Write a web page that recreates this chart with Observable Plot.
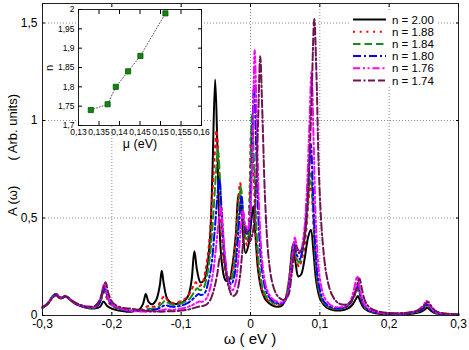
<!DOCTYPE html>
<html><head><meta charset="utf-8">
<script src="https://cdn.jsdelivr.net/npm/d3@7"></script>
<script src="https://cdn.jsdelivr.net/npm/@observablehq/plot@0.6"></script>
<style>
body{margin:0;background:#fff;}
#wrap{position:relative;width:469px;height:350px;font-family:"Liberation Sans",Arial,Helvetica,sans-serif;}
#wrap svg{position:absolute;}
</style></head><body><div id="wrap"></div>
<script>
// ---- main chart data ----
const xTicks = [-0.3, -0.2, -0.1, 0, 0.1, 0.2, 0.3];
const yTicks = [0, 0.5, 1, 1.5];
const seriesNames = ["n = 2.00", "n = 1.88", "n = 1.84", "n = 1.80", "n = 1.76", "n = 1.74"];
const seriesColors = ["#000000", "#ff0000", "#1a8c1a", "#0000ff", "#ff00ff", "#6e1452"];
const seriesDash = [null, "2,4.7", "7.5,4", "8,3,2,3", "7,3,2,2.5,2,3", "8,2.5,2,2.5,7,3,7,3"];

const n200 = [[-0.300,0.040],[-0.292,0.060],[-0.285,0.100],[-0.281,0.110],[-0.276,0.090],[-0.272,0.088],[-0.267,0.098],[-0.262,0.085],[-0.255,0.065],[-0.245,0.048],[-0.235,0.038],[-0.225,0.036],[-0.217,0.045],[-0.212,0.072],[-0.207,0.050],[-0.200,0.035],[-0.190,0.025],[-0.180,0.020],[-0.170,0.020],[-0.160,0.032],[-0.155,0.060],[-0.151,0.110],[-0.147,0.070],[-0.142,0.058],[-0.136,0.080],[-0.131,0.150],[-0.128,0.230],[-0.125,0.160],[-0.120,0.085],[-0.113,0.062],[-0.105,0.060],[-0.097,0.070],[-0.090,0.100],[-0.085,0.180],[-0.081,0.330],[-0.077,0.230],[-0.072,0.170],[-0.067,0.180],[-0.062,0.260],[-0.058,0.420],[-0.055,0.720],[-0.051,1.210],[-0.048,0.900],[-0.045,0.480],[-0.041,0.260],[-0.036,0.180],[-0.031,0.180],[-0.026,0.260],[-0.021,0.420],[-0.017,0.620],[-0.014,0.600],[-0.011,0.420],[-0.007,0.320],[-0.003,0.360],[0.001,0.480],[0.004,0.560],[0.007,0.420],[0.011,0.230],[0.016,0.130],[0.022,0.080],[0.030,0.055],[0.038,0.045],[0.045,0.050],[0.051,0.090],[0.056,0.190],[0.061,0.360],[0.065,0.270],[0.069,0.200],[0.073,0.210],[0.078,0.290],[0.083,0.400],[0.087,0.440],[0.091,0.320],[0.095,0.170],[0.101,0.080],[0.110,0.040],[0.120,0.027],[0.130,0.026],[0.140,0.035],[0.147,0.055],[0.152,0.085],[0.155,0.100],[0.158,0.075],[0.163,0.040],[0.170,0.022],[0.180,0.012],[0.200,0.006],[0.220,0.006],[0.235,0.010],[0.245,0.018],[0.251,0.030],[0.255,0.040],[0.259,0.028],[0.266,0.012],[0.280,0.005],[0.300,0.003]];

const n188 = [[-0.300,0.045],[-0.292,0.065],[-0.285,0.100],[-0.280,0.112],[-0.276,0.095],[-0.272,0.092],[-0.266,0.100],[-0.261,0.085],[-0.254,0.065],[-0.245,0.050],[-0.235,0.040],[-0.225,0.040],[-0.218,0.060],[-0.214,0.095],[-0.211,0.120],[-0.207,0.085],[-0.202,0.055],[-0.195,0.040],[-0.185,0.030],[-0.175,0.025],[-0.165,0.025],[-0.157,0.030],[-0.150,0.045],[-0.146,0.050],[-0.140,0.045],[-0.133,0.055],[-0.127,0.090],[-0.124,0.100],[-0.120,0.080],[-0.113,0.065],[-0.105,0.068],[-0.097,0.080],[-0.090,0.100],[-0.084,0.140],[-0.079,0.170],[-0.075,0.150],[-0.070,0.160],[-0.065,0.230],[-0.060,0.360],[-0.056,0.560],[-0.052,0.800],[-0.049,0.950],[-0.046,0.780],[-0.042,0.450],[-0.037,0.240],[-0.032,0.180],[-0.028,0.200],[-0.023,0.330],[-0.019,0.520],[-0.015,0.680],[-0.012,0.560],[-0.008,0.400],[-0.005,0.360],[-0.002,0.550],[0.001,0.950],[0.004,0.780],[0.008,0.400],[0.013,0.200],[0.019,0.110],[0.026,0.075],[0.034,0.060],[0.042,0.055],[0.049,0.075],[0.054,0.150],[0.058,0.260],[0.062,0.370],[0.066,0.290],[0.070,0.250],[0.075,0.300],[0.080,0.420],[0.084,0.600],[0.087,0.680],[0.090,0.520],[0.094,0.260],[0.099,0.120],[0.106,0.060],[0.115,0.038],[0.125,0.032],[0.135,0.038],[0.143,0.055],[0.150,0.100],[0.155,0.130],[0.159,0.090],[0.164,0.045],[0.172,0.022],[0.185,0.012],[0.205,0.008],[0.225,0.010],[0.240,0.018],[0.250,0.035],[0.255,0.050],[0.260,0.032],[0.268,0.012],[0.282,0.006],[0.300,0.004]];

const n184 = [[-0.300,0.040],[-0.292,0.065],[-0.285,0.100],[-0.280,0.110],[-0.276,0.095],[-0.272,0.093],[-0.266,0.102],[-0.261,0.085],[-0.254,0.065],[-0.245,0.050],[-0.235,0.040],[-0.225,0.040],[-0.218,0.062],[-0.214,0.100],[-0.210,0.130],[-0.206,0.090],[-0.201,0.058],[-0.194,0.040],[-0.185,0.030],[-0.175,0.025],[-0.165,0.024],[-0.155,0.027],[-0.148,0.035],[-0.142,0.035],[-0.135,0.040],[-0.128,0.060],[-0.123,0.075],[-0.119,0.065],[-0.112,0.055],[-0.104,0.058],[-0.096,0.068],[-0.088,0.085],[-0.082,0.115],[-0.077,0.140],[-0.073,0.130],[-0.068,0.140],[-0.063,0.200],[-0.058,0.320],[-0.054,0.500],[-0.050,0.720],[-0.047,0.850],[-0.044,0.700],[-0.040,0.400],[-0.035,0.220],[-0.030,0.170],[-0.026,0.200],[-0.021,0.330],[-0.017,0.530],[-0.014,0.660],[-0.011,0.540],[-0.007,0.400],[-0.004,0.390],[-0.001,0.600],[0.002,1.030],[0.005,0.800],[0.009,0.420],[0.014,0.210],[0.020,0.115],[0.027,0.078],[0.035,0.062],[0.043,0.058],[0.050,0.080],[0.055,0.160],[0.059,0.280],[0.062,0.370],[0.066,0.300],[0.070,0.270],[0.075,0.330],[0.080,0.460],[0.084,0.640],[0.087,0.730],[0.090,0.560],[0.094,0.280],[0.099,0.130],[0.106,0.065],[0.115,0.040],[0.125,0.034],[0.135,0.040],[0.143,0.058],[0.150,0.105],[0.155,0.140],[0.159,0.095],[0.164,0.048],[0.172,0.024],[0.185,0.013],[0.205,0.008],[0.225,0.010],[0.240,0.019],[0.250,0.037],[0.255,0.052],[0.260,0.034],[0.268,0.013],[0.282,0.006],[0.300,0.004]];

const n180 = [[-0.300,0.040],[-0.292,0.065],[-0.285,0.098],[-0.280,0.108],[-0.276,0.095],[-0.272,0.093],[-0.266,0.100],[-0.261,0.085],[-0.254,0.066],[-0.245,0.050],[-0.235,0.042],[-0.225,0.042],[-0.218,0.065],[-0.214,0.105],[-0.210,0.140],[-0.206,0.095],[-0.201,0.060],[-0.194,0.042],[-0.185,0.031],[-0.175,0.025],[-0.165,0.023],[-0.155,0.024],[-0.145,0.027],[-0.137,0.030],[-0.130,0.040],[-0.125,0.050],[-0.121,0.052],[-0.116,0.046],[-0.109,0.045],[-0.101,0.050],[-0.093,0.060],[-0.086,0.075],[-0.080,0.095],[-0.075,0.110],[-0.071,0.105],[-0.066,0.115],[-0.061,0.170],[-0.056,0.270],[-0.052,0.420],[-0.048,0.600],[-0.045,0.700],[-0.042,0.560],[-0.038,0.340],[-0.033,0.200],[-0.028,0.160],[-0.024,0.190],[-0.020,0.310],[-0.016,0.500],[-0.013,0.610],[-0.010,0.510],[-0.006,0.420],[-0.003,0.430],[0.001,0.680],[0.005,1.180],[0.008,0.880],[0.012,0.450],[0.017,0.220],[0.023,0.120],[0.030,0.080],[0.038,0.064],[0.046,0.062],[0.052,0.090],[0.056,0.170],[0.060,0.290],[0.063,0.370],[0.067,0.310],[0.071,0.290],[0.076,0.360],[0.080,0.500],[0.084,0.720],[0.087,0.880],[0.090,0.650],[0.094,0.320],[0.099,0.150],[0.106,0.072],[0.115,0.044],[0.125,0.036],[0.135,0.042],[0.143,0.060],[0.150,0.110],[0.155,0.150],[0.159,0.100],[0.164,0.050],[0.172,0.025],[0.185,0.014],[0.205,0.009],[0.225,0.011],[0.240,0.020],[0.250,0.040],[0.255,0.056],[0.260,0.036],[0.268,0.014],[0.282,0.007],[0.300,0.004]];

const n176 = [[-0.300,0.040],[-0.292,0.062],[-0.285,0.095],[-0.280,0.105],[-0.276,0.095],[-0.272,0.092],[-0.266,0.098],[-0.261,0.085],[-0.254,0.067],[-0.245,0.052],[-0.235,0.044],[-0.225,0.045],[-0.219,0.068],[-0.215,0.110],[-0.211,0.160],[-0.207,0.110],[-0.202,0.068],[-0.195,0.046],[-0.185,0.033],[-0.175,0.026],[-0.165,0.022],[-0.155,0.020],[-0.145,0.020],[-0.135,0.022],[-0.127,0.027],[-0.122,0.032],[-0.117,0.030],[-0.110,0.030],[-0.102,0.034],[-0.094,0.040],[-0.086,0.050],[-0.079,0.063],[-0.074,0.072],[-0.070,0.070],[-0.064,0.085],[-0.059,0.130],[-0.054,0.220],[-0.050,0.340],[-0.046,0.480],[-0.043,0.560],[-0.040,0.450],[-0.036,0.280],[-0.031,0.160],[-0.026,0.130],[-0.022,0.160],[-0.018,0.270],[-0.014,0.450],[-0.011,0.540],[-0.008,0.470],[-0.004,0.440],[-0.001,0.500],[0.003,0.850],[0.006,1.360],[0.009,1.000],[0.013,0.500],[0.018,0.240],[0.024,0.130],[0.031,0.088],[0.039,0.070],[0.047,0.068],[0.053,0.100],[0.057,0.190],[0.061,0.320],[0.064,0.400],[0.068,0.340],[0.072,0.330],[0.077,0.420],[0.081,0.620],[0.085,0.980],[0.088,1.250],[0.091,0.900],[0.095,0.420],[0.100,0.190],[0.107,0.090],[0.116,0.052],[0.126,0.042],[0.136,0.048],[0.143,0.068],[0.149,0.130],[0.154,0.200],[0.158,0.130],[0.163,0.065],[0.171,0.032],[0.185,0.016],[0.205,0.010],[0.225,0.013],[0.240,0.025],[0.249,0.050],[0.254,0.075],[0.259,0.048],[0.267,0.018],[0.282,0.008],[0.300,0.005]];

const n174 = [[-0.300,0.042],[-0.292,0.062],[-0.285,0.093],[-0.280,0.102],[-0.276,0.094],[-0.272,0.092],[-0.266,0.097],[-0.261,0.086],[-0.254,0.068],[-0.245,0.054],[-0.235,0.046],[-0.225,0.048],[-0.218,0.075],[-0.213,0.130],[-0.209,0.170],[-0.205,0.115],[-0.200,0.072],[-0.193,0.050],[-0.183,0.038],[-0.173,0.035],[-0.163,0.030],[-0.153,0.025],[-0.143,0.022],[-0.133,0.020],[-0.125,0.020],[-0.118,0.022],[-0.110,0.022],[-0.100,0.025],[-0.090,0.030],[-0.082,0.038],[-0.075,0.045],[-0.070,0.048],[-0.064,0.055],[-0.058,0.080],[-0.053,0.130],[-0.048,0.210],[-0.044,0.300],[-0.040,0.320],[-0.036,0.230],[-0.031,0.140],[-0.026,0.100],[-0.021,0.110],[-0.016,0.180],[-0.012,0.320],[-0.008,0.450],[-0.005,0.430],[-0.001,0.380],[0.003,0.420],[0.007,0.600],[0.011,1.000],[0.014,1.330],[0.017,1.050],[0.021,0.600],[0.026,0.300],[0.032,0.160],[0.039,0.100],[0.047,0.080],[0.054,0.100],[0.059,0.200],[0.063,0.320],[0.066,0.360],[0.070,0.320],[0.075,0.350],[0.080,0.470],[0.084,0.700],[0.088,1.100],[0.092,1.520],[0.095,1.250],[0.099,0.700],[0.104,0.380],[0.110,0.200],[0.117,0.110],[0.126,0.065],[0.136,0.055],[0.144,0.068],[0.151,0.120],[0.157,0.190],[0.161,0.130],[0.166,0.068],[0.174,0.035],[0.188,0.018],[0.208,0.012],[0.228,0.015],[0.242,0.028],[0.251,0.052],[0.256,0.070],[0.261,0.046],[0.269,0.020],[0.284,0.009],[0.300,0.006]];

// ---- inset data ----
const insetMu = [0.1330, 0.1371, 0.1391, 0.1421, 0.1451, 0.1512];
const insetN  = [1.74, 1.755, 1.80, 1.84, 1.88, 1.99];
const insetXTicks = [0.13, 0.135, 0.14, 0.145, 0.15, 0.155, 0.16];
const insetYTicks = [1.7, 1.75, 1.8, 1.85, 1.9, 1.95, 2];

const FONT = '"Liberation Sans", Arial, Helvetica, sans-serif';
const fmt = d => String(+(+d).toFixed(4)).replace(".", ",");
const wrap = document.getElementById("wrap");

const seriesData = [n200, n188, n184, n180, n176, n174];
const lineMarks = seriesData.map((s, i) =>
  Plot.line(s.map(([x, y]) => ({x, y})), {
    x: "x", y: "y", stroke: seriesColors[i], strokeWidth: 2,
    strokeDasharray: seriesDash[i] || undefined, curve: "catmull-rom",
    strokeLinejoin: "round"
  })
);

const blank = () => "";
const main = Plot.plot({
  width: 469, height: 350,
  marginTop: 3, marginRight: 11, marginBottom: 35, marginLeft: 42,
  style: {background: "transparent", fontFamily: FONT, fontSize: "12px", color: "#000", overflow: "visible"},
  x: {domain: [-0.3, 0.3]},
  y: {domain: [0, 1.6]},
  marks: [
    Plot.gridX(xTicks.slice(1, -1), {stroke: "#8a8a8a", strokeOpacity: 1, strokeDasharray: "1,2"}),
    Plot.gridY(yTicks.slice(1), {stroke: "#8a8a8a", strokeOpacity: 1, strokeDasharray: "1,2"}),
    ...lineMarks,
    Plot.frame({stroke: "#222"}),
    Plot.axisX(xTicks, {anchor: "bottom", tickSize: 0, tickPadding: 4, tickFormat: fmt, label: null}),
    Plot.axisY(yTicks, {anchor: "left", tickSize: 0, tickPadding: 5, tickFormat: fmt, label: null}),
    Plot.axisX(xTicks, {anchor: "bottom", tickSize: 3, dy: -3, tickFormat: blank, label: null}),
    Plot.axisX(xTicks, {anchor: "top", tickSize: 3, dy: 3, tickFormat: blank, label: null}),
    Plot.axisY(yTicks, {anchor: "left", tickSize: 3, dx: 3, tickFormat: blank, label: null}),
    Plot.axisY(yTicks, {anchor: "right", tickSize: 3, dx: -3, tickFormat: blank, label: null})
  ]
});
main.style.left = "0px"; main.style.top = "0px";
wrap.appendChild(main);

// ---- inset ----
const insetRows = insetMu.map((m, i) => ({mu: m, n: insetN[i]}));
const inset = Plot.plot({
  width: 165, height: 150,
  marginLeft: 38, marginRight: 4, marginTop: 9, marginBottom: 25,
  style: {background: "transparent", fontFamily: FONT, fontSize: "8.5px", color: "#000", overflow: "visible"},
  x: {domain: [0.13, 0.16]},
  y: {domain: [1.7, 2]},
  marks: [
    Plot.frame({fill: "white", stroke: "#222"}),
    Plot.line(insetRows, {x: "mu", y: "n", stroke: "#555", strokeWidth: 1, strokeDasharray: "1,2"}),
    Plot.dot(insetRows, {x: "mu", y: "n", symbol: "square", r: 2.9, fill: "#0b8a0b", stroke: "#0a4d0a", strokeWidth: 0.8}),
    Plot.axisX(insetXTicks, {anchor: "bottom", tickSize: 0, tickPadding: 3, tickFormat: fmt, label: null}),
    Plot.axisY(insetYTicks, {anchor: "left", tickSize: 0, tickPadding: 4, tickFormat: fmt, label: null}),
    Plot.axisX(insetXTicks, {anchor: "bottom", tickSize: 4, dy: -4, tickFormat: blank, label: null}),
    Plot.axisX(insetXTicks, {anchor: "top", tickSize: 4, dy: 4, tickFormat: blank, label: null}),
    Plot.axisY(insetYTicks, {anchor: "left", tickSize: 4, dx: 4, tickFormat: blank, label: null}),
    Plot.axisY(insetYTicks, {anchor: "right", tickSize: 4, dx: -4, tickFormat: blank, label: null})
  ]
});
inset.style.left = "40px"; inset.style.top = "0px";
wrap.appendChild(inset);

// ---- overlay: axis titles and legend ----
const svg = d3.select(wrap).append("svg")
  .attr("width", 469).attr("height", 350)
  .style("left", "0px").style("top", "0px")
  .attr("font-family", FONT);

svg.append("text").attr("x", 250).attr("y", 344).attr("text-anchor", "middle")
  .attr("font-size", 15).text("ω ( eV )");
svg.append("text").attr("transform", "translate(17,155) rotate(-90)")
  .attr("text-anchor", "middle").attr("font-size", 13)
  .attr("xml:space", "preserve").style("white-space", "pre")
  .text("A (ω)       ( Arb. units)");
svg.append("text").attr("x", 140).attr("y", 148).attr("text-anchor", "middle")
  .attr("font-size", 12.5).text("μ (eV)");
svg.append("text").attr("transform", "translate(53,68) rotate(-90)")
  .attr("text-anchor", "middle").attr("font-size", 11).text("n");

const lg = svg.append("g");
lg.append("rect").attr("x", 350).attr("y", 11).attr("width", 86).attr("height", 76).attr("fill", "white");
seriesNames.forEach((name, i) => {
  const yy = 19.5 + i * 12.2;
  lg.append("line").attr("x1", 353).attr("x2", 386).attr("y1", yy).attr("y2", yy)
    .attr("stroke", seriesColors[i]).attr("stroke-width", 2)
    .attr("stroke-dasharray", seriesDash[i]);
  lg.append("text").attr("x", 392).attr("y", yy + 4).attr("font-size", 11.5).text(name);
});
</script></body></html>
